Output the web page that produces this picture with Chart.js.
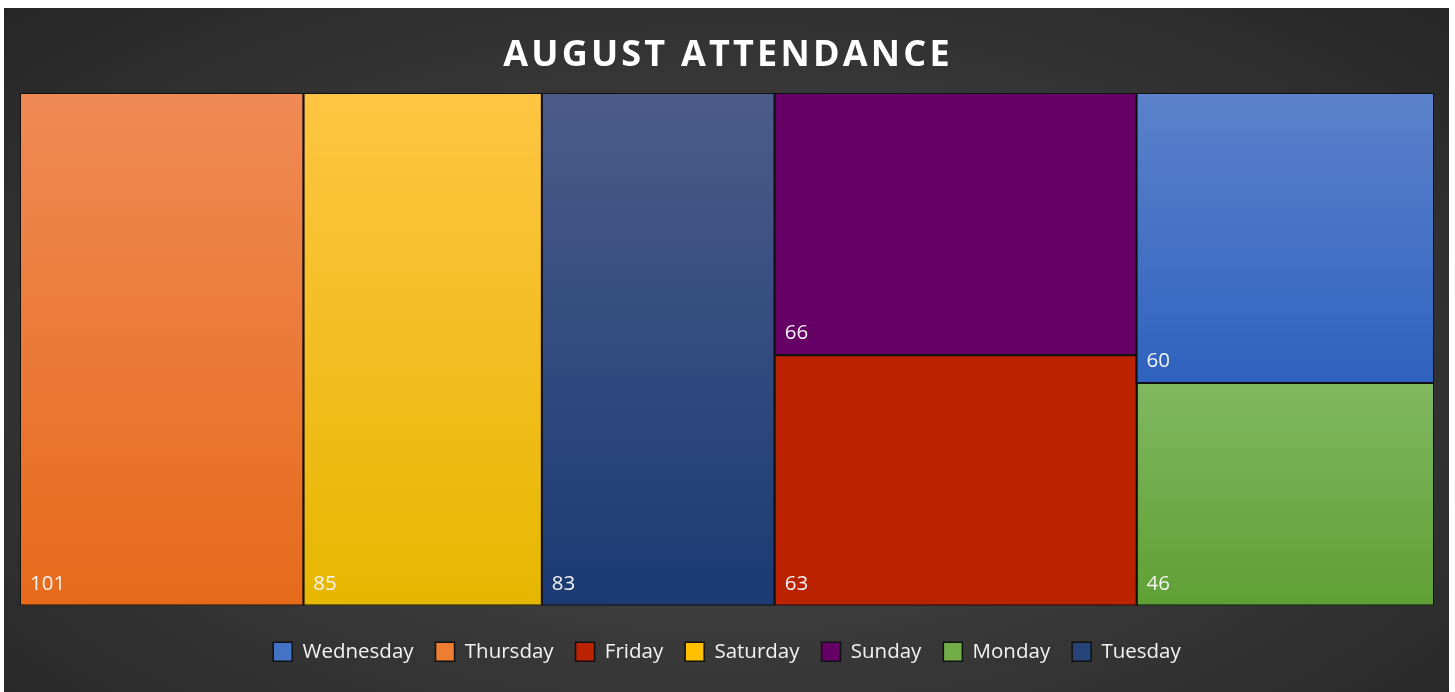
<!DOCTYPE html>
<html>
<head>
<meta charset="utf-8">
<title>August Attendance</title>
<script src="https://cdn.jsdelivr.net/npm/chart.js@4.4.1/dist/chart.umd.min.js"></script>
<style>
  html, body { margin: 0; padding: 0; background: #fff; }
  #wrap {
    position: absolute; left: 4px; top: 8px; width: 1445px; height: 684px;
    background: radial-gradient(ellipse farthest-corner at 50% 55%, #4b4b4b 0%, #3d3d3d 40%, #262626 100%);
  }
</style>
</head>
<body>
<div id="wrap"><canvas id="treeChart"></canvas></div>
<script>
// data, in the order of the legend
const days = ['Wednesday', 'Thursday', 'Friday', 'Saturday', 'Sunday', 'Monday', 'Tuesday'];
const attendance = [60, 101, 63, 85, 66, 46, 83];

// tiles of the treemap: one column per entry, top to bottom (indexes into days)
const columns = [[1], [3], [6], [4, 2], [0, 5]];

const topColors    = ['#5b82cb', '#f08a55', '#bb2200', '#ffc543', '#660066', '#80b860', '#4b5c8a'];
const bottomColors = ['#2f62be', '#e66a1a', '#bb2200', '#e6b700', '#660066', '#5fa034', '#1b3a73'];
const legendColors = ['#4472c4', '#ed7d31', '#bb2200', '#ffc000', '#660066', '#70ad47', '#264478'];

// work out each tile in value units (x: running total, y: share of its column)
const total = attendance.reduce((a, b) => a + b, 0);
const tiles = [];
let xStart = 0;
columns.forEach(col => {
    const colSum = col.reduce((s, i) => s + attendance[i], 0);
    let yTop = 1;
    col.forEach(i => {
        const h = attendance[i] / colSum;
        tiles[i] = { x0: xStart, x1: xStart + colSum, y0: yTop - h, y1: yTop };
        yTop -= h;
    });
    xStart += colSum;
});

function tileFill(chart, i) {
    const y = chart.scales.y;
    if (!chart.chartArea || !y) return topColors[i];
    const t = tiles[i];
    const g = chart.ctx.createLinearGradient(0, y.getPixelForValue(t.y1), 0, y.getPixelForValue(t.y0));
    g.addColorStop(0, topColors[i]);
    g.addColorStop(1, bottomColors[i]);
    return g;
}

// title with letter spacing
const titlePlugin = {
    id: 'bigTitle',
    afterDraw(chart) {
        const ctx = chart.ctx;
        ctx.save();
        ctx.font = 'bold 36px "Open Sans"';
        ctx.letterSpacing = '3.2px';
        ctx.fillStyle = '#ffffff';
        ctx.textAlign = 'center';
        ctx.textBaseline = 'middle';
        ctx.fillText('AUGUST ATTENDANCE', chart.width / 2 + 1.5, 48);
        ctx.restore();
    }
};

// value in the bottom-left corner of each tile
const valuePlugin = {
    id: 'tileValues',
    afterDatasetsDraw(chart) {
        const ctx = chart.ctx;
        const { x, y } = chart.scales;
        ctx.save();
        ctx.font = '20.5px "Open Sans"';
        ctx.fillStyle = '#f4f4f4';
        ctx.textAlign = 'left';
        ctx.textBaseline = 'alphabetic';
        tiles.forEach((t, i) => {
            ctx.fillText(String(attendance[i]), x.getPixelForValue(t.x0) + 10, y.getPixelForValue(t.y0) - 16);
        });
        ctx.restore();
    }
};

const ctx = document.getElementById('treeChart').getContext('2d');
const treeChart = new Chart(ctx, {
    type: 'line',
    data: {
        datasets: days.map((d, i) => {
            const t = tiles[i];
            return {
                label: d,
                data: [
                    { x: t.x0, y: t.y1 }, { x: t.x1, y: t.y1 },
                    { x: t.x1, y: t.y0 }, { x: t.x0, y: t.y0 },
                    { x: t.x0, y: t.y1 }
                ],
                fill: 'shape',
                backgroundColor: c => tileFill(c.chart, i),
                borderColor: '#111111',
                borderWidth: 2,
                borderJoinStyle: 'miter',
                pointRadius: 0,
                pointHoverRadius: 0,
                tension: 0
            };
        })
    },
    options: {
        responsive: true,
        maintainAspectRatio: false,
        animation: false,
        events: [],
        layout: { padding: { left: 16, right: 15, top: 85, bottom: 20 } },
        scales: {
            x: { type: 'linear', min: 0, max: total, display: false },
            y: { type: 'linear', min: 0, max: 1, display: false }
        },
        plugins: {
            tooltip: { enabled: false },
            legend: {
                position: 'bottom',
                title: { display: true, text: '', font: { size: 10 }, padding: { top: 2, bottom: 0 } },
                labels: {
                    boxWidth: 19,
                    boxHeight: 19,
                    padding: 22,
                    color: '#f2f2f2',
                    font: { family: '"Open Sans"', size: 20.5 },
                    generateLabels: () => days.map((d, i) => ({
                        text: d,
                        fillStyle: legendColors[i],
                        strokeStyle: '#111111',
                        lineWidth: 1.5,
                        fontColor: '#f2f2f2',
                        hidden: false,
                        datasetIndex: i
                    }))
                }
            }
        }
    },
    plugins: [titlePlugin, valuePlugin]
});
</script>
</body>
</html>
